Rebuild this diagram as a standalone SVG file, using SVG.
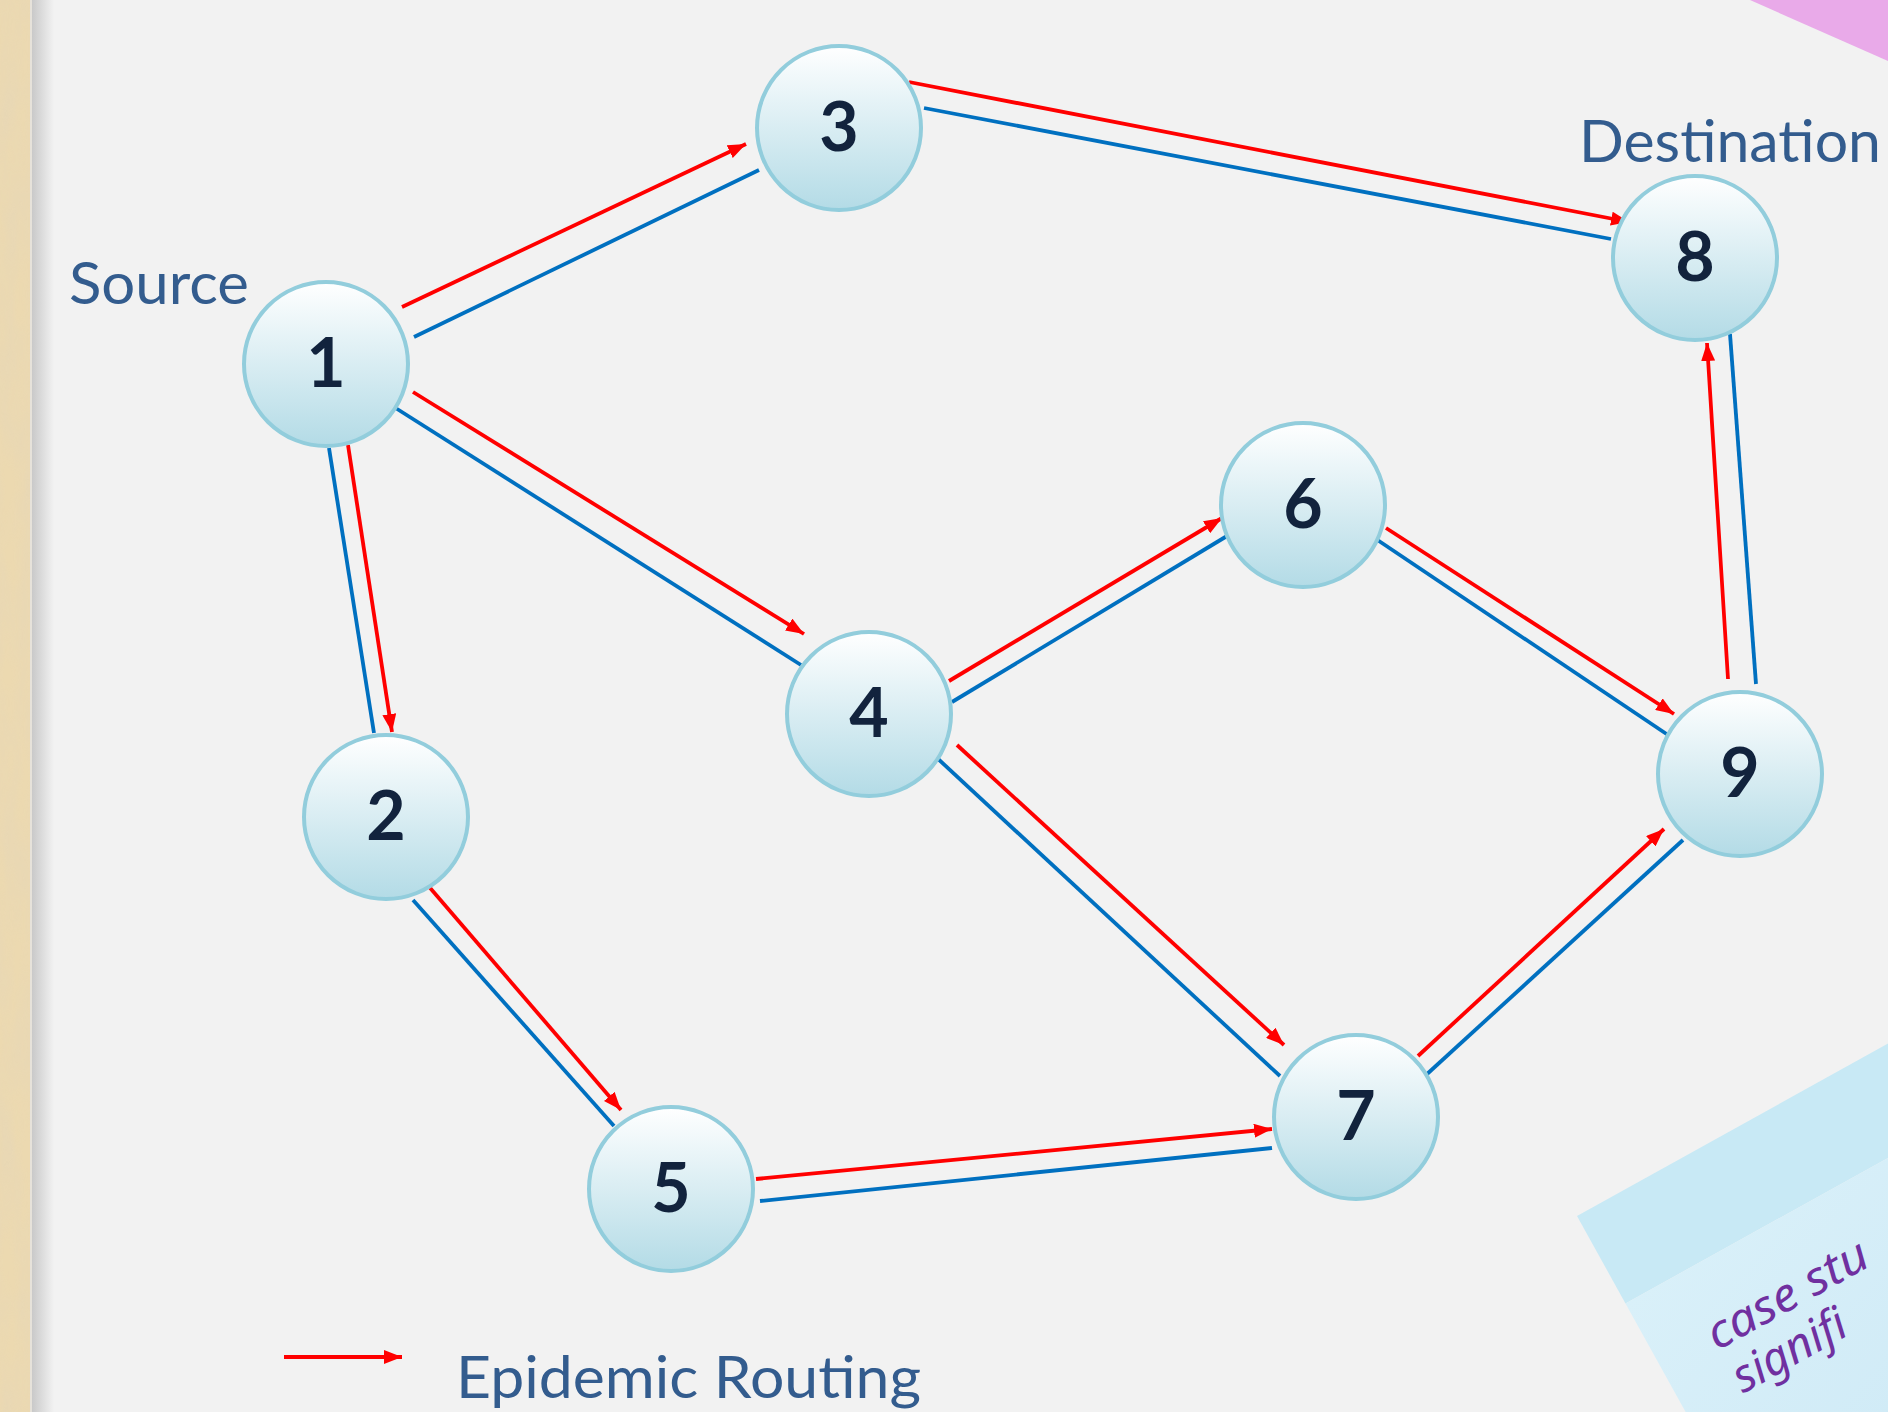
<svg xmlns="http://www.w3.org/2000/svg" width="1888" height="1412" viewBox="0 0 1888 1412">
  <style>
    .red { stroke: #ff0000; stroke-width: 3.8; fill: none; marker-end: url(#arrow); }
    .blue { stroke: #0070c0; stroke-width: 3.8; fill: none; }
    .node circle { fill: url(#nodeGrad); stroke: #92cddc; stroke-width: 4; }
    .node text { font-family: Lato, "Open Sans", "Liberation Sans", sans-serif; font-weight: bold; font-size: 68px; fill: #12233d; text-anchor: middle; }
    .label { font-family: Lato, "Open Sans", "Liberation Sans", sans-serif; font-size: 58px; fill: #335c8e; }
    .note { font-family: "Noto Sans", "DejaVu Sans", sans-serif; font-style: italic; font-size: 46px; fill: #7030a0; }
  </style>
  <defs>
    <linearGradient id="nodeGrad" x1="0" y1="0" x2="0" y2="1">
      <stop offset="0" stop-color="#ffffff"/>
      <stop offset="1" stop-color="#b3dbe6"/>
    </linearGradient>
    <linearGradient id="shadow" x1="0" y1="0" x2="1" y2="0">
      <stop offset="0" stop-color="#c9c9c9"/>
      <stop offset="1" stop-color="#f2f2f2"/>
    </linearGradient>
    <linearGradient id="noteBody" x1="0" y1="0" x2="0.4" y2="1">
      <stop offset="0" stop-color="#d9f0f9"/>
      <stop offset="1" stop-color="#c5e4f3"/>
    </linearGradient>
    <filter id="grain" x="0" y="0" width="1" height="1">
      <feTurbulence type="fractalNoise" baseFrequency="0.05 0.012" numOctaves="3" seed="3"/>
      <feColorMatrix type="matrix" values="0 0 0 0 0.80  0 0 0 0 0.68  0 0 0 0 0.47  0 0 0 1.6 -0.45"/>
    </filter>
    <marker id="arrow" markerUnits="userSpaceOnUse" markerWidth="18" markerHeight="14" refX="18" refY="7" orient="auto">
      <path d="M0,0 L18,7 L0,14 z" fill="#ff0000"/>
    </marker>
  </defs>

  <!-- background -->
  <rect x="0" y="0" width="1888" height="1412" fill="#f2f2f2"/>
  <rect x="0" y="0" width="30" height="1412" fill="#ecd9b0"/>
  <rect x="0" y="0" width="30" height="1412" filter="url(#grain)" opacity="0.8"/>
  <rect x="30" y="0" width="2" height="1412" fill="#e6e2da"/>
  <rect x="32" y="0" width="22" height="1412" fill="url(#shadow)"/>

  <!-- decorative shapes -->
  <polygon points="1750,0 1888,0 1888,61" fill="#e9aae9"/>
  <g id="sticky-note" transform="translate(1577,1216) rotate(-29)">
    <rect x="0" y="0" width="700" height="100" fill="#c8e9f5"/>
    <rect x="0" y="100" width="700" height="600" fill="url(#noteBody)"/>
    <text class="note" x="57" y="186" textLength="178" lengthAdjust="spacingAndGlyphs">case stu</text>
    <text class="note" x="59" y="236">signifi</text>
  </g>

  <!-- connectors -->
  <g id="connectors">
    <line class="red" x1="402" y1="307" x2="746" y2="144"/>
    <line class="blue" x1="414" y1="337" x2="759" y2="170"/>
    <line class="red" x1="909" y1="82" x2="1629" y2="222"/>
    <line class="blue" x1="924" y1="108" x2="1611" y2="239"/>
    <line class="red" x1="413" y1="392" x2="804" y2="634"/>
    <line class="blue" x1="394" y1="407" x2="801" y2="665"/>
    <line class="red" x1="348" y1="445" x2="392" y2="732"/>
    <line class="blue" x1="329" y1="448" x2="374" y2="733"/>
    <line class="red" x1="425" y1="882" x2="621" y2="1110"/>
    <line class="blue" x1="413" y1="900" x2="614" y2="1126"/>
    <line class="red" x1="756" y1="1179" x2="1272" y2="1129"/>
    <line class="blue" x1="760" y1="1201" x2="1272" y2="1148"/>
    <line class="red" x1="957" y1="745" x2="1284" y2="1045"/>
    <line class="blue" x1="936" y1="757" x2="1280" y2="1076"/>
    <line class="red" x1="949" y1="681" x2="1222" y2="518"/>
    <line class="blue" x1="952" y1="702" x2="1227" y2="536"/>
    <line class="red" x1="1386" y1="528" x2="1674" y2="714"/>
    <line class="blue" x1="1376" y1="539" x2="1671" y2="737"/>
    <line class="red" x1="1418" y1="1056" x2="1664" y2="829"/>
    <line class="blue" x1="1426" y1="1075" x2="1683" y2="840"/>
    <line class="red" x1="1728" y1="679" x2="1707" y2="343"/>
    <line class="blue" x1="1756" y1="684" x2="1730" y2="334"/>
  </g>

  <!-- nodes -->
  <g id="node1" class="node"><circle cx="326" cy="364" r="82"/><text x="326" y="387">1</text></g>
  <g id="node2" class="node"><circle cx="386" cy="817" r="82"/><text x="386" y="840">2</text></g>
  <g id="node3" class="node"><circle cx="839" cy="128" r="82"/><text x="839" y="151">3</text></g>
  <g id="node4" class="node"><circle cx="869" cy="714" r="82"/><text x="869" y="737">4</text></g>
  <g id="node5" class="node"><circle cx="671" cy="1189" r="82"/><text x="671" y="1212">5</text></g>
  <g id="node6" class="node"><circle cx="1303" cy="505" r="82"/><text x="1303" y="528">6</text></g>
  <g id="node7" class="node"><circle cx="1356" cy="1117" r="82"/><text x="1356" y="1140">7</text></g>
  <g id="node8" class="node"><circle cx="1695" cy="258" r="82"/><text x="1695" y="281">8</text></g>
  <g id="node9" class="node"><circle cx="1740" cy="774" r="82"/><text x="1740" y="797">9</text></g>

  <!-- labels -->
  <g id="labels">
    <text class="label" x="69" y="304" textLength="180" lengthAdjust="spacingAndGlyphs">Source</text>
    <text class="label" x="1579" y="162" textLength="302" lengthAdjust="spacingAndGlyphs">Destination</text>
  </g>

  <!-- legend -->
  <g id="legend">
    <line class="red" x1="284" y1="1357" x2="402" y2="1357" style="stroke-width:4"/>
    <text class="label" x="456" y="1398" textLength="465" lengthAdjust="spacingAndGlyphs">Epidemic Routing</text>
  </g>
</svg>
